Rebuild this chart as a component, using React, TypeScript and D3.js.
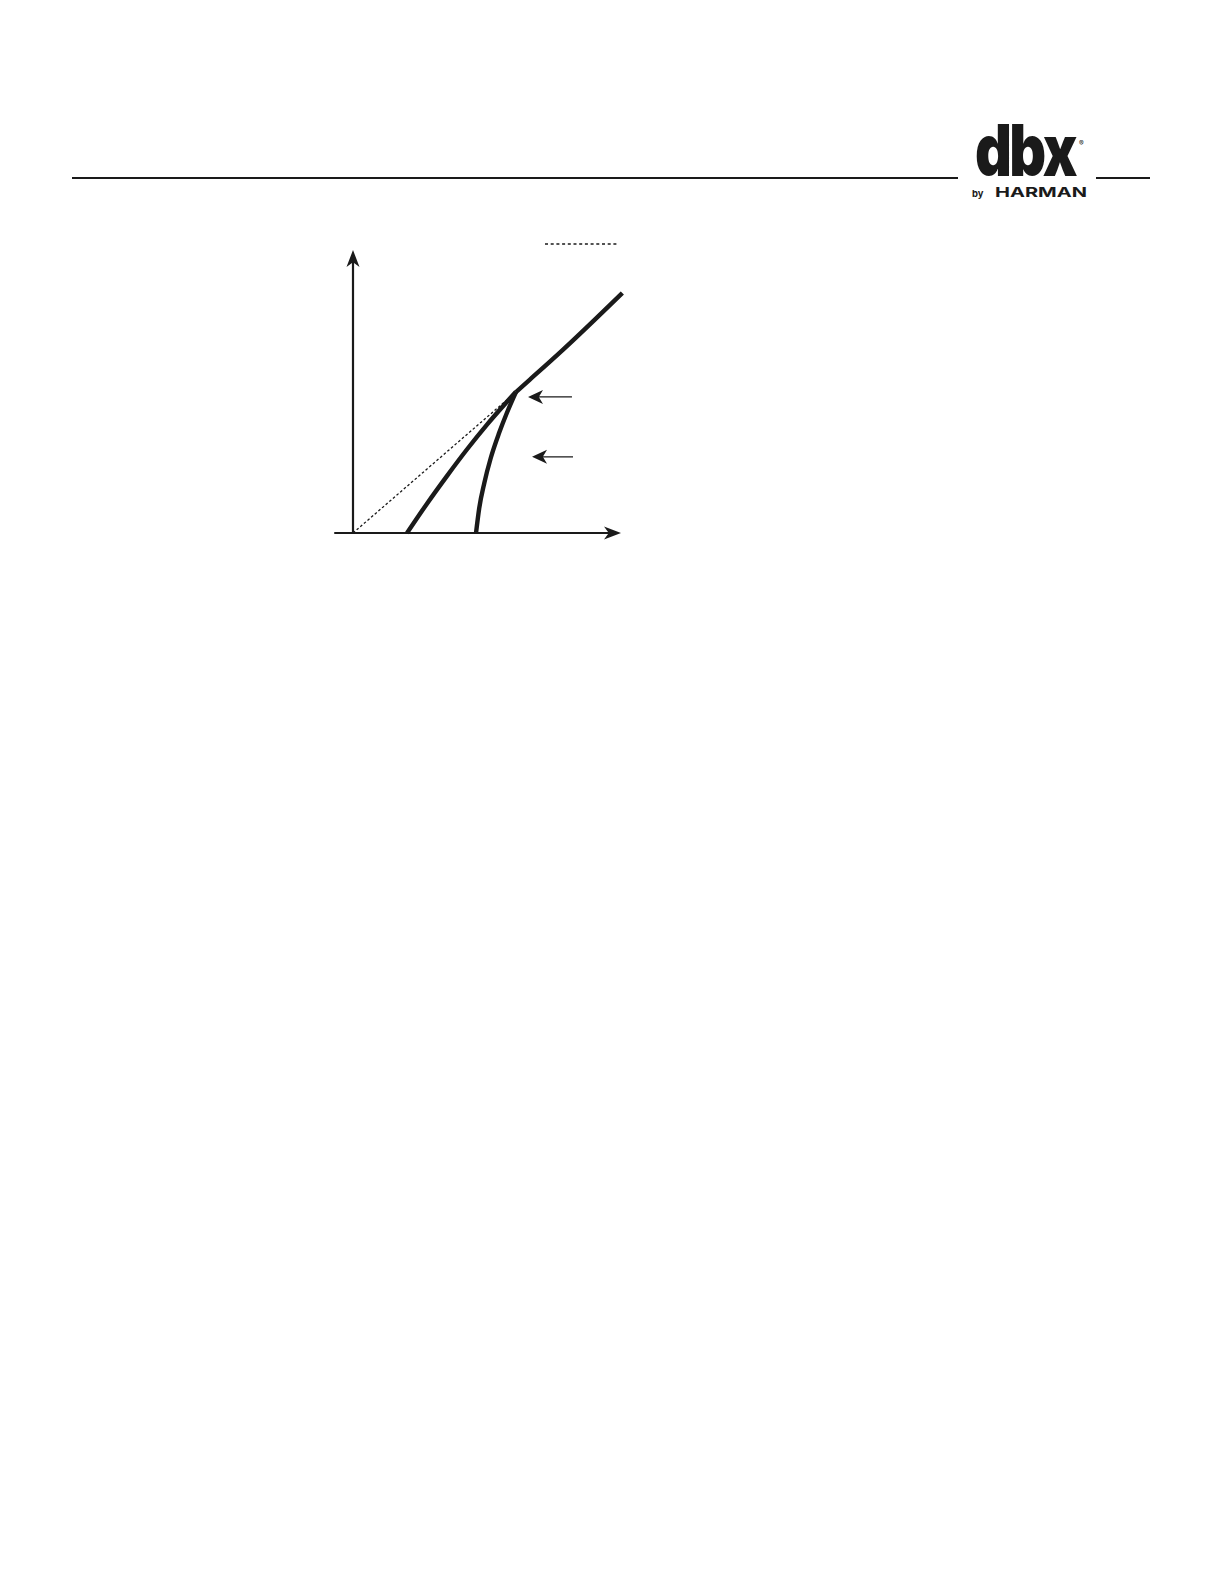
import React from 'react';
import * as d3 from 'd3';

// input / output level, arbitrary dB-ish units
const unityLine: [number, number][] = [
  [0, 0],
  [60.8, 49.8],
];

const aboveThreshold: [number, number][] = [
  [60.8, 49.8],
  [66, 54.2],
  [78.4, 64.8],
  [100.5, 84.8],
];

const expanderCurve: [number, number][] = [
  [20.15, 0],
  [27.6, 10.35],
  [35.1, 20.2],
  [42.5, 29.5],
  [50, 38.3],
  [60.8, 49.9],
];

const gateCurve: [number, number][] = [
  [45.9, 0],
  [47.1, 8.8],
  [49, 17.7],
  [51.4, 26.5],
  [54.5, 35.3],
  [57.4, 42.4],
  [60.8, 49.8],
];

// pointer arrows: [tipX, tailX, y]
const pointers: [number, number, number][] = [
  [65.3, 81.7, 48.1],
  [66.8, 82.1, 26.9],
];

const W = 1224;
const H = 1584;

// barbed arrow head, tip at (x,y), pointing along angle (radians)
function head(x: number, y: number, angle: number, len: number, half: number) {
  const c = Math.cos(angle);
  const s = Math.sin(angle);
  const pt = (along: number, side: number) =>
    `${x - c * along - s * side},${y - s * along + c * side}`;
  return `M${x},${y}L${pt(len, half)}L${pt(len * 0.72, 0)}L${pt(len, -half)}Z`;
}

const App: React.FC = () => {
  const x = d3.scaleLinear().domain([0, 100]).range([353, 621]);
  const y = d3.scaleLinear().domain([0, 100]).range([533, 250]);

  const straight = d3
    .line<[number, number]>()
    .x((d) => x(d[0]))
    .y((d) => y(d[1]));
  const smooth = d3
    .line<[number, number]>()
    .x((d) => x(d[0]))
    .y((d) => y(d[1]))
    .curve(d3.curveMonotoneX);

  const ink = '#1a1a1a';
  const sans = "Inter, 'DejaVu Sans', sans-serif";

  return (
    <div>
      <style>{'body{margin:0}'}</style>
      <svg width={W} height={H} style={{ display: 'block', background: '#fff' }}>
        {/* page header */}
        <line x1={72} x2={958} y1={178} y2={178} stroke={ink} strokeWidth={2} />
        <line x1={1096} x2={1150} y1={178} y2={178} stroke={ink} strokeWidth={2} />
        <g transform="translate(975,176) scale(1,1.06)">
          <text
            x={0}
            y={0}
            fontFamily={sans}
            fontWeight={900}
            fontSize={68}
            letterSpacing={-3}
            textLength={100}
            lengthAdjust="spacingAndGlyphs"
            fill={ink}
          >
            dbx
          </text>
        </g>
        <text x={1079} y={146} fontFamily={sans} fontSize={7} fill={ink}>
          ®
        </text>
        <text x={972} y={197} fontFamily={sans} fontWeight={700} fontSize={9.5} fill={ink}>
          by
        </text>
        <text
          x={995}
          y={197}
          fontFamily={sans}
          fontWeight={700}
          fontSize={13.5}
          textLength={92}
          lengthAdjust="spacingAndGlyphs"
          fill={ink}
        >
          HARMAN
        </text>

        {/* legend key for the unity line */}
        <line
          x1={545}
          x2={619}
          y1={244}
          y2={244}
          stroke={ink}
          strokeWidth={1.6}
          strokeDasharray="3 2.7"
        />

        {/* axes */}
        <line x1={x(-7)} x2={x(100) - 8} y1={y(0)} y2={y(0)} stroke={ink} strokeWidth={2.2} />
        <path d={head(x(100), y(0), 0, 17, 6.5)} fill={ink} />
        <line x1={x(0)} x2={x(0)} y1={y(0) + 1} y2={y(100) + 8} stroke={ink} strokeWidth={2.2} />
        <path d={head(x(0), y(100), -Math.PI / 2, 17, 6.5)} fill={ink} />

        {/* unity reference */}
        <path
          d={straight(unityLine) ?? ''}
          fill="none"
          stroke={ink}
          strokeWidth={1.3}
          strokeDasharray="2.6 2.2"
        />

        {/* transfer curves */}
        <g fill="none" stroke={ink} strokeWidth={4.4} strokeLinejoin="round">
          <path d={smooth(expanderCurve) ?? ''} />
          <path d={smooth(gateCurve) ?? ''} />
          <path d={smooth(aboveThreshold) ?? ''} />
        </g>

        {/* pointer arrows */}
        {pointers.map(([tip, tail, lvl], i) => (
          <g key={i}>
            <line
              x1={x(tip) + 8}
              x2={x(tail)}
              y1={y(lvl)}
              y2={y(lvl)}
              stroke={ink}
              strokeWidth={1.4}
            />
            <path d={head(x(tip), y(lvl), Math.PI, 15, 7)} fill={ink} />
          </g>
        ))}
      </svg>
    </div>
  );
};

export default App;
